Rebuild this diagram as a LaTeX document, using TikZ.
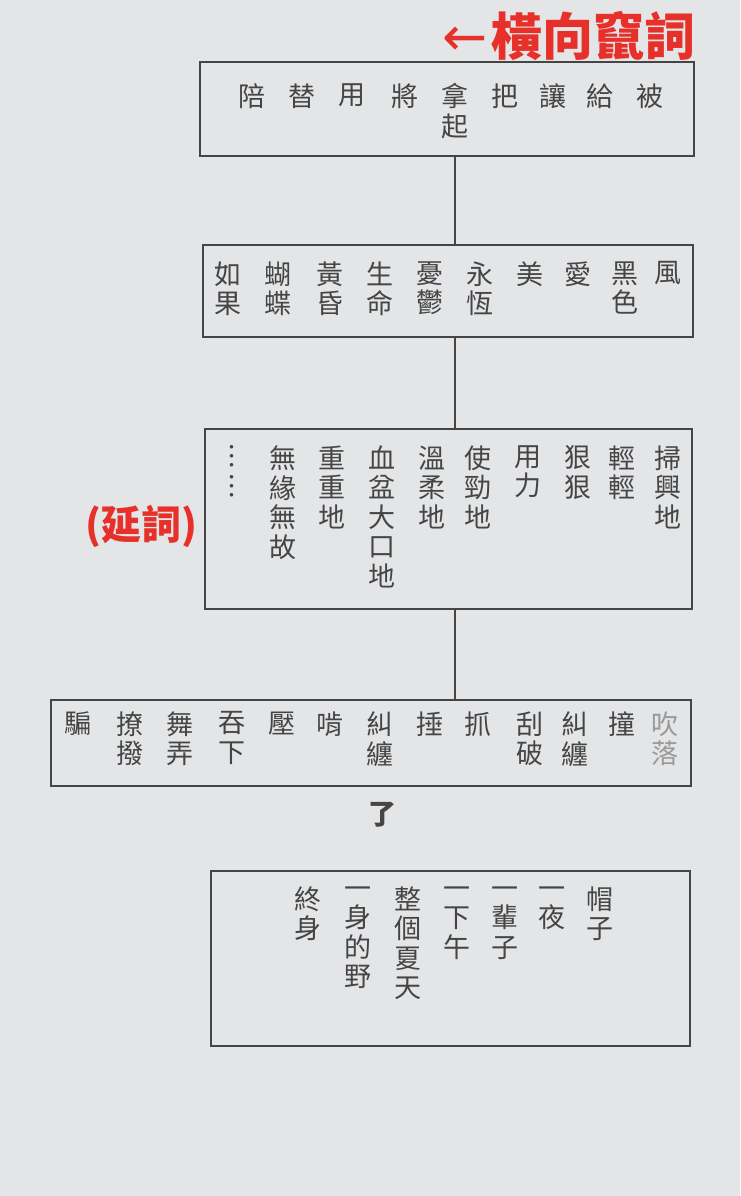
\documentclass[tikz,border=0pt]{standalone}
\usepackage{fontspec}
\newfontfamily\cjk{Noto Sans CJK TC}
\newfontfamily\sym{DejaVu Sans}
\usetikzlibrary{positioning}
\definecolor{paper}{HTML}{E4E5E7}
\definecolor{ink}{HTML}{454545}
\definecolor{mark}{HTML}{E8302A}

\begin{document}
\begin{tikzpicture}[x=1pt, y=-1pt,
					box/.style={draw=ink, line width=1.3pt, inner sep=0pt},
					link/.style={draw=ink, line width=1.2pt},
					col/.style={anchor=north, inner sep=0pt, align=center, text=ink,
						font=\cjk\fontsize{27}{29.5}\selectfont},
					note/.style={text=mark, inner sep=0pt,
						font=\cjk\bfseries\fontsize{51}{54}\selectfont}]

\fill[paper] (0,0) rectangle (740,1196);
\useasboundingbox (0,0) rectangle (740,1196);

% boxes
\node[box, minimum width=494pt, minimum height=94pt]  (prep) at (447,109)   {};
\node[box, minimum width=490pt, minimum height=92pt]  (noun) at (448,291)   {};
\node[box, minimum width=487pt, minimum height=180pt] (adv)  at (448.5,519) {};
\node[box, minimum width=640pt, minimum height=86pt]  (verb) at (371,743)   {};
\node[box, minimum width=479pt, minimum height=175pt] (obj)  at (450.5,958.5) {};

\coordinate (spine) at (455,0);
\draw[link] (spine |- prep.south) -- (spine |- noun.north);
\draw[link] (spine |- noun.south) -- (spine |- adv.north);
\draw[link] (spine |- adv.south)  -- (spine |- verb.north);

% red notes
\node[note, anchor=east] (title) at (696,36) {{\sym\mdseries\fontsize{54}{56}\selectfont ←}\kern4pt 橫向竄詞};
\node[note, font=\cjk\bfseries\fontsize{40}{44}\selectfont] (yan) at (141,526) {(延詞)};

% first box
\node[col] (p1) at (650,83.5) {被};
\node[col] (p2) at (600,83.5) {給};
\node[col] (p3) at (553,83.5) {讓};
\node[col] (p4) at (505,83.5) {把};
\node[col] (p5) at (455,83.5) {拿\\起};
\node[col] (p6) at (405,83.5) {將};
\node[col] (p7) at (352,83.5) {用};
\node[col] (p8) at (302,83.5) {替};
\node[col] (p9) at (252,83.5) {陪};

% second box
\node[col] (n1)  at (668,261.5) {風};
\node[col] (n2)  at (625,261.5) {黑\\色};
\node[col] (n3)  at (578,261.5) {愛};
\node[col] (n4)  at (530,261.5) {美};
\node[col] (n5)  at (480,261.5) {永\\恆};
\node[col] (n6)  at (430,261.5) {憂\\鬱};
\node[col] (n7)  at (380,261.5) {生\\命};
\node[col] (n8)  at (330,261.5) {黃\\昏};
\node[col] (n9)  at (278,261.5) {蝴\\蝶};
\node[col] (n10) at (228,261.5) {如\\果};

% third box
\node[col] (a1)  at (668,445.5) {掃\\興\\地};
\node[col] (a2)  at (622,445.5) {輕\\輕};
\node[col] (a3)  at (578,445.5) {狠\\狠};
\node[col] (a4)  at (528,445.5) {用\\力};
\node[col] (a5)  at (478,445.5) {使\\勁\\地};
\node[col] (a6)  at (432,445.5) {溫\\柔\\地};
\node[col] (a7)  at (382,445.5) {血\\盆\\大\\口\\地};
\node[col] (a8)  at (332,445.5) {重\\重\\地};
\node[col] (a9)  at (283,445.5) {無\\緣\\無\\故};
\node[col] (a10) at (232,445.5) {︙\\︙};

% fourth box
\node[col, text=ink!55] (v1) at (665,711.5) {吹\\落};
\node[col] (v2)  at (622,711.5) {撞};
\node[col] (v3)  at (575,711.5) {糾\\纏};
\node[col] (v4)  at (530,711.5) {刮\\破};
\node[col] (v5)  at (478,711.5) {抓};
\node[col] (v6)  at (430,711.5) {捶};
\node[col] (v7)  at (380,711.5) {糾\\纏};
\node[col] (v8)  at (330,711.5) {啃};
\node[col] (v9)  at (282,711.5) {壓};
\node[col] (v10) at (232,711.5) {吞\\下};
\node[col] (v11) at (180,711.5) {舞\\弄};
\node[col] (v12) at (130,711.5) {撩\\撥};
\node[col] (v13) at (78,711.5)  {騙};

\node[col, anchor=center, font=\cjk\bfseries\fontsize{28}{30}\selectfont] (le) at (382,815) {了};

% fifth box
\node[col] (o1) at (600,886.5) {帽\\子};
\node[col] (o2) at (552,886.5) {一\\夜};
\node[col] (o3) at (505,886.5) {一\\輩\\子};
\node[col] (o4) at (457,886.5) {一\\下\\午};
\node[col] (o5) at (408,886.5) {整\\個\\夏\\天};
\node[col] (o6) at (358,886.5) {一\\身\\的\\野};
\node[col] (o7) at (308,886.5) {終\\身};
\end{tikzpicture}
\end{document}
